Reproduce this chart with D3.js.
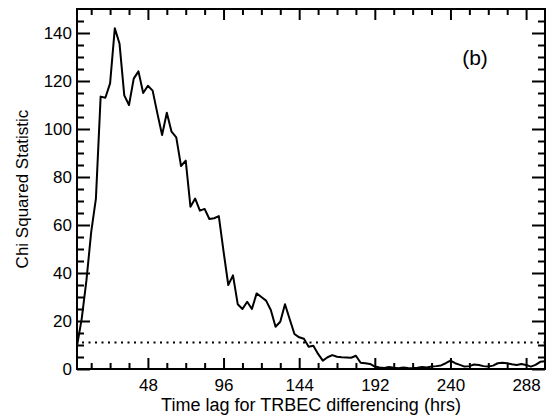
<!DOCTYPE html>
<html lang="en">
<head>
  <meta charset="UTF-8">
  <title>Chi Squared Statistic vs Time Lag</title>
  <script src="https://d3js.org/d3.v7.min.js"></script>
  <style>
    body {
      margin: 0;
      background: #fff;
    }
    svg {
      display: block;
      font-family: "Liberation Sans", Arial, Helvetica, sans-serif;
    }
  </style>
</head>
<body>
  <svg id="chart" width="546" height="416"></svg>

  <script>
    // Time lag (hrs), one sample every 3 hours.
    const lags = [
      3, 6, 9, 12, 15, 18, 21, 24, 27, 30,
      33, 36, 39, 42, 45, 48, 51, 54, 57, 60,
      63, 66, 69, 72, 75, 78, 81, 84, 87, 90,
      93, 96, 99, 102, 105, 108, 111, 114, 117, 120,
      123, 126, 129, 132, 135, 138, 141, 144, 147, 150,
      153, 156, 159, 162, 165, 168, 171, 174, 177, 180,
      183, 186, 189, 192, 195, 198, 201, 204, 207, 210,
      213, 216, 219, 222, 225, 228, 231, 234, 237, 240,
      243, 246, 249, 252, 255, 258, 261, 264, 267, 270,
      273, 276, 279, 282, 285, 288, 291, 294, 297, 300
    ];

    // Chi squared statistic.
    const chiSq = [
      9.5, 21, 37, 57, 71, 113.5, 113, 119, 142, 135.5,
      114, 110, 121, 124, 115, 118, 116, 106.5, 97.5, 106.8,
      98.9, 96.5, 84.6, 86.8, 67.6, 71, 66, 66.7, 62.5, 62.8,
      63.7, 49, 35, 39, 27, 25, 28, 25, 31.5, 30,
      28.5, 24.6, 17.6, 19.7, 27, 20.7, 14.6, 13.2, 12.6, 9.3,
      9.7, 6.3, 3.5, 4.9, 5.8, 5.1, 4.9, 4.8, 4.7, 5.5,
      2.6, 2.4, 2.1, 1.0, 0.6, 0.4, 0.8, 0.5, 0.3, 0.6,
      0.4, 0.3, 0.5, 0.8, 0.6, 1.0, 1.2, 1.5, 2.4, 3.5,
      2.4, 1.7, 1.0, 1.2, 1.9, 1.7, 1.2, 1.0, 1.4, 2.4,
      2.6, 2.4, 2.0, 1.7, 2.1, 1.7, 1.0, 1.7, 3.0, 3.2
    ];

    // Significance threshold (dotted line).
    const threshold = [11.07];

    // Tick values.
    const xMajorTicks = [48, 96, 144, 192, 240, 288];
    const xMinorTicks = d3.range(12, 300, 12).filter(v => v % 48 !== 0);
    const yMajorTicks = [0, 20, 40, 60, 80, 100, 120, 140];
    const yMinorTicks = d3.range(5, 150, 5).filter(v => v % 20 !== 0);

    const data = lags.map((lag, i) => ({ lag, value: chiSq[i] }));

    const svg = d3.select("#chart");

    const x = d3.scaleLinear().domain([3, 300]).range([77, 545]);
    const y = d3.scaleLinear().domain([0, 150]).range([369, 9]);

    const xMaj = 11, xMin = 6, yMaj = 13, yMin = 7;

    function styleAxis(sel) {
      sel.select(".domain").remove();
      sel.selectAll(".tick line").attr("stroke", "#000").attr("stroke-width", 2);
      sel.selectAll(".tick text").attr("fill", "#000").style("font-size", "17px");
    }

    // Bottom axis
    svg.append("g")
      .attr("transform", `translate(0,${y(0)})`)
      .call(d3.axisBottom(x).tickValues(xMajorTicks).tickSizeInner(-xMaj).tickSizeOuter(0).tickPadding(10).tickFormat(d3.format("d")))
      .call(styleAxis);
    svg.append("g")
      .attr("transform", `translate(0,${y(0)})`)
      .call(d3.axisBottom(x).tickValues(xMinorTicks).tickSizeInner(-xMin).tickSizeOuter(0).tickFormat(""))
      .call(styleAxis);

    // Top axis
    svg.append("g")
      .attr("transform", `translate(0,${y(150)})`)
      .call(d3.axisTop(x).tickValues(xMajorTicks).tickSizeInner(-xMaj).tickSizeOuter(0).tickFormat(""))
      .call(styleAxis);
    svg.append("g")
      .attr("transform", `translate(0,${y(150)})`)
      .call(d3.axisTop(x).tickValues(xMinorTicks).tickSizeInner(-xMin).tickSizeOuter(0).tickFormat(""))
      .call(styleAxis);

    // Left axis
    svg.append("g")
      .attr("transform", `translate(${x(3)},0)`)
      .call(d3.axisLeft(y).tickValues(yMajorTicks).tickSizeInner(-yMaj).tickSizeOuter(0).tickPadding(5))
      .call(styleAxis);
    svg.append("g")
      .attr("transform", `translate(${x(3)},0)`)
      .call(d3.axisLeft(y).tickValues(yMinorTicks).tickSizeInner(-yMin).tickSizeOuter(0).tickFormat(""))
      .call(styleAxis);

    // Right axis
    svg.append("g")
      .attr("transform", `translate(${x(300)},0)`)
      .call(d3.axisRight(y).tickValues(yMajorTicks).tickSizeInner(-yMaj).tickSizeOuter(0).tickFormat(""))
      .call(styleAxis);
    svg.append("g")
      .attr("transform", `translate(${x(300)},0)`)
      .call(d3.axisRight(y).tickValues(yMinorTicks).tickSizeInner(-yMin).tickSizeOuter(0).tickFormat(""))
      .call(styleAxis);

    // Frame
    svg.append("rect")
      .attr("x", x(3))
      .attr("y", y(150))
      .attr("width", x(300) - x(3))
      .attr("height", y(0) - y(150))
      .attr("fill", "none")
      .attr("stroke", "#000")
      .attr("stroke-width", 2);

    // Threshold dotted line
    svg.selectAll(".thresh")
      .data(threshold)
      .enter()
      .append("line")
      .attr("class", "thresh")
      .attr("x1", x(3) + 5)
      .attr("x2", x(300))
      .attr("y1", d => y(d))
      .attr("y2", d => y(d))
      .attr("stroke", "#000")
      .attr("stroke-width", 2)
      .attr("stroke-dasharray", "2,4.5");

    // Chi squared curve
    const line = d3.line()
      .x(d => x(d.lag))
      .y(d => y(d.value));

    svg.append("path")
      .datum(data)
      .attr("fill", "none")
      .attr("stroke", "#000")
      .attr("stroke-width", 2)
      .attr("stroke-linejoin", "round")
      .attr("d", line);

    // Axis titles
    svg.append("text")
      .attr("x", (x(3) + x(300)) / 2)
      .attr("y", 411)
      .attr("text-anchor", "middle")
      .style("font-size", "18px")
      .text("Time lag for TRBEC differencing (hrs)");

    svg.append("text")
      .attr("transform", `translate(28,${(y(0) + y(150)) / 2}) rotate(-90)`)
      .attr("text-anchor", "middle")
      .style("font-size", "17px")
      .text("Chi Squared Statistic");

    // Panel label
    svg.append("text")
      .attr("x", 475)
      .attr("y", 65)
      .attr("text-anchor", "middle")
      .style("font-size", "21px")
      .text("(b)");
  </script>
</body>
</html>
